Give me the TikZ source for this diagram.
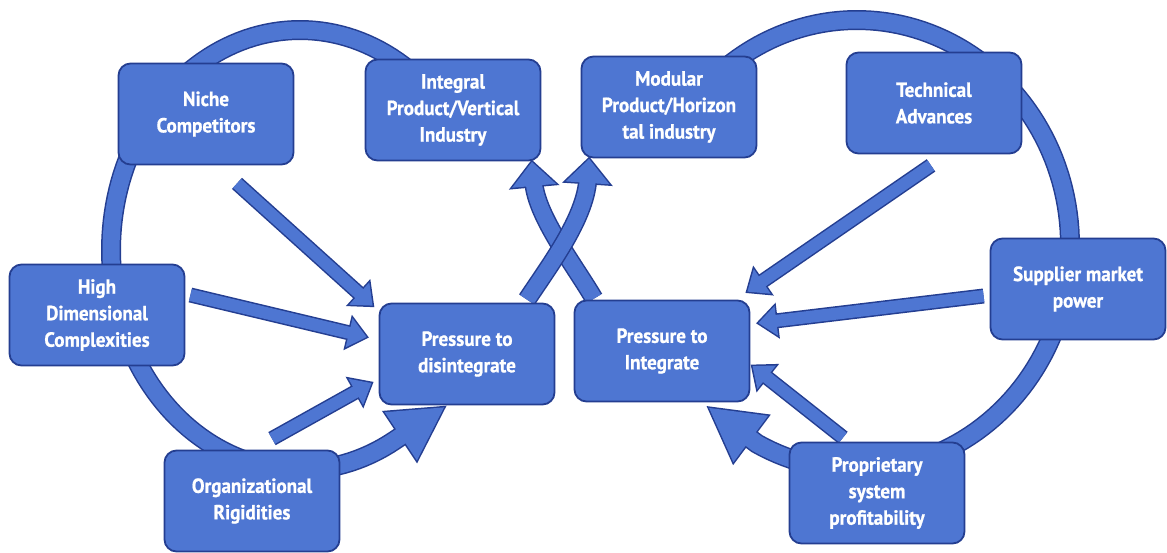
\documentclass[tikz,border=0pt]{standalone}
\usepackage{fontspec}
\setmainfont{PT Sans}[FakeStretch=0.93, BoldFeatures={FakeBold=0.8}]
\usetikzlibrary{decorations.markings}
\pgfdeclarelayer{bg}
\pgfsetlayers{bg,main}
\definecolor{fillc}{RGB}{78,118,210}
\definecolor{edgec}{RGB}{36,62,145}
\tikzset{
  box/.style={draw=edgec, line width=1.8pt, fill=fillc, rounded corners=12pt,
    minimum width=175pt, minimum height=101pt, inner sep=0pt, align=center,
    text=white, font=\fontsize{20.5}{26.5}\selectfont\bfseries},
  flow/.style n args={3}{
    preaction={draw=edgec, line width=#1pt+3pt, shorten >=#2pt-3pt},
    preaction={decorate, decoration={markings, mark=at position 1 with {\filldraw[draw=edgec, fill=edgec, line width=3pt, line join=miter] (-#2,#3)--(0,0)--(-#2,-#3)--cycle;}}},
    preaction={draw=fillc, line width=#1pt, shorten >=#2pt-3pt},
    postaction={decorate, decoration={markings, mark=at position 1 with {\fill[fillc] (-#2,#3)--(0,0)--(-#2,-#3)--cycle;}}}
  },
}
\begin{document}
\begin{tikzpicture}[x=1pt, y=-1pt]
\useasboundingbox (0,0) rectangle (1167,552);
\begin{pgfonlayer}{bg}
\fill[white] (0,0) rectangle (1167,552);
\end{pgfonlayer}
% boxes
\node[box] (niche)    at (206,114) {Niche\\Competitors};
\node[box] (integral) at (453,110) {Integral\\Product/Vertical\\Industry};
\node[box] (modular)  at (669,107) {Modular\\Product/Horizon\\tal industry};
\node[box] (tech)     at (934,103) {Technical\\Advances};
\node[box] (high)     at (97,315)  {High\\Dimensional\\Complexities};
\node[box] (dis)      at (467,354) {Pressure to\\disintegrate};
\node[box] (integ)    at (662,351) {Pressure to\\Integrate};
\node[box] (supp)     at (1078,289) {Supplier market\\power};
\node[box] (org)      at (252,501) {Organizational\\Rigidities};
\node[box] (prop)     at (877,493) {Proprietary\\system\\profitability};
\begin{pgfonlayer}{bg}
% loops
\path[flow={17}{52}{29}] plot[domain=-55:-300, samples=120, variable=\t]
  ({300+189*cos(\t)},{250+220*sin(\t)}) -- ([shift={(-23,2)}]dis.south);
\path[flow={17}{52}{29}] plot[domain=-128:118, samples=120, variable=\t]
  ({857+213*cos(\t)},{245+225*sin(\t)}) -- ([shift={(47,5.5)}]integ.south);
% straight arrows
\path[flow={12}{18}{15}] ([shift={(31,18)}]niche.south) -- ([shift={(-6,3)}]dis.north west);
\path[flow={12}{18}{15}] ([shift={(5,-20)}]high.east) -- ([shift={(-12,-17)}]dis.west);
\path[flow={12}{18}{15}] ([shift={(20,-11)}]org.north) -- ([shift={(-7,29)}]dis.west);
\path[flow={12}{18}{15}] ([shift={(-3,11)}]tech.south) -- ([shift={(-3,-8)}]integ.north east);
\path[flow={12}{18}{15}] ([shift={(-6,7)}]supp.west) -- ([shift={(8,-28)}]integ.east);
\path[flow={12}{18}{15}] ([shift={(-34,-4)}]prop.north) -- ([shift={(2,15)}]integ.east);
% crossing arrows
\path[flow={16}{24}{22}] ([shift={(-68,-1)}]integ.north) .. controls +(-20,-34) and +(5,55) .. ([shift={(-9.5,0.5)}]integral.south east);
\path[flow={16}{24}{22}] ([shift={(60,-3)}]dis.north) .. controls +(21,-32) and +(-4,60) .. ([shift={(8.5,0.5)}]modular.south west);
\end{pgfonlayer}
\end{tikzpicture}
\end{document}
